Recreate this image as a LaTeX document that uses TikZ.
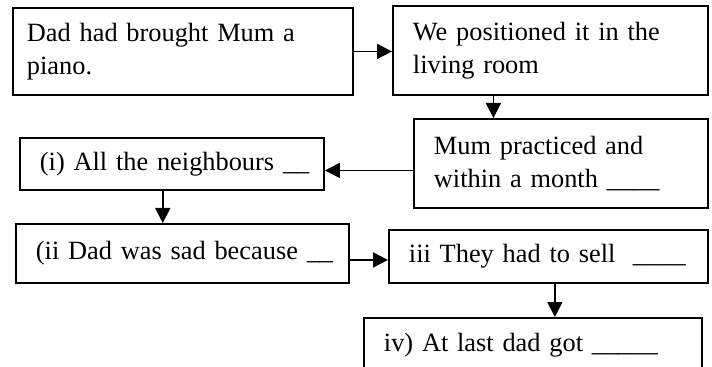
\documentclass[tikz,border=0pt]{standalone}
\usepackage{fontspec}
\setmainfont{Liberation Serif}
\usetikzlibrary{calc,arrows.meta}

\begin{document}
\begin{tikzpicture}[
		box/.style={draw, line width=0.38mm, anchor=north west, align=left, inner xsep=0.4cm, inner ysep=0pt, font=\fontsize{15}{19}\selectfont},
		link/.style={line width=0.35mm, -{Triangle[length=3mm, width=3mm]}}
	]
		%%%%% START %%%%%
		
		\useasboundingbox (0, 0) rectangle (14.24, -7.34);
		\clip (0, 0) rectangle (14.24, -7.34);
		
		\node[box, inner xsep=0.28cm, text width=6.24cm, minimum height=1.74cm] (brought) at (0.24, -0.14) {Dad had brought Mum a\\piano.};
		\node[box, text width=5.5cm, minimum height=1.78cm] (positioned) at (7.84, -0.10) {We positioned it in the\\living room};
		\node[box, text width=5.08cm, minimum height=1.78cm] (practiced) at (8.26, -2.36) {Mum practiced and\\within a month \_\_\_\_};
		
		\node[box, text width=5.28cm, minimum height=1.04cm] (neighbours) at (0.38, -2.74) {\mbox{(i) All the neighbours \_\_}};
		\node[box, text width=5.86cm, minimum height=1.18cm] (sad) at (0.30, -4.46) {\mbox{(ii Dad was sad because \_\_}};
		\node[box, text width=5.58cm, minimum height=1.06cm] (sell) at (7.76, -4.58) {\mbox{iii They had to sell\ \ \_\_\_\_}};
		\node[box, text width=5.96cm, minimum height=1.08cm] (got) at (7.26, -6.34) {\mbox{iv) At last dad got \_\_\_\_\_}};
		
		\coordinate (down1) at ($(positioned.south west)!0.32!(positioned.south east)$);
		\coordinate (left1) at ([yshift=-0.14cm]practiced.west);
		\coordinate (down2) at ($(neighbours.south west)!0.47!(neighbours.south east)$);
		\coordinate (right2) at ([yshift=-0.13cm]sad.east);
		\coordinate (down3) at ($(sell.south west)!0.52!(sell.south east)$);
		
		\draw[link] (brought.east) -- (brought.east -| positioned.west);
		\draw[link] (down1) -- (down1 |- practiced.north);
		\draw[link] (left1) -- (left1 -| neighbours.east);
		\draw[link] (down2) -- (down2 |- sad.north);
		\draw[link] (right2) -- (right2 -| sell.west);
		\draw[link] (down3) -- (down3 |- got.north);
		
		%%%%% END %%%%%
	\end{tikzpicture}
\end{document}
